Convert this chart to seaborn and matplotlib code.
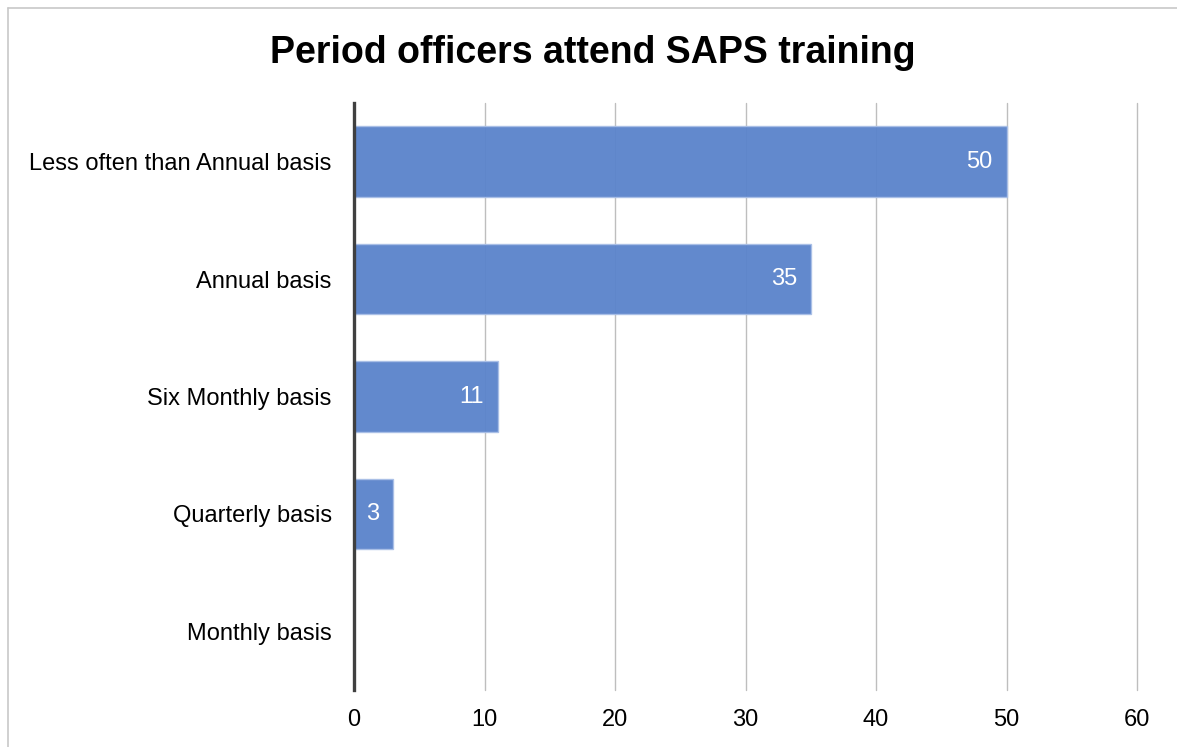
import matplotlib
matplotlib.use("Agg")
import matplotlib.pyplot as plt
import numpy as np
import pandas as pd
import seaborn as sns
from matplotlib.lines import Line2D

# datos
categorias = ["Less often than Annual basis", "Annual basis", "Six Monthly basis",
              "Quarterly basis", "Monthly basis"]
valores = [50, 35, 11, 3, 0]
ticks_x = [0, 10, 20, 30, 40, 50, 60]
titulo = "Period officers attend SAPS training"

df = pd.DataFrame({"categoria": categorias, "valor": valores})

sns.set_theme(style="white")
plt.rcParams["font.family"] = ["Liberation Sans", "DejaVu Sans"]

fig = plt.figure(figsize=(11.77, 7.47), dpi=100)
ax = fig.add_axes([0.3008, 0.0763, 0.6653, 0.7858])

sns.barplot(data=df, x="valor", y="categoria", orient="h", color="#5a83cb",
            width=0.6, saturation=1, ax=ax, zorder=3)
for p in ax.patches:
    p.set_alpha(0.95)
    p.set_edgecolor("#a9bfe6")
    p.set_linewidth(1)

# etiquetas de valor dentro de la barra
for i, v in enumerate(valores):
    if v > 0:
        ax.annotate(str(v), (v, i), xytext=(-10, 0), textcoords="offset points",
                    ha="right", va="center", color="white", fontsize=17, zorder=4)

ax.set_xlim(0, 60)
ax.set_ylim(4.5, -0.5)
ax.set_xticks(ticks_x)
ax.xaxis.grid(True, color="#bebebe", linewidth=1)
for gl in ax.get_xgridlines():
    gl.set_clip_on(False)
ax.set_axisbelow(True)
ax.set_xlabel("")
ax.set_ylabel("")
ax.tick_params(axis="both", length=0, labelsize=17, colors="black")
ax.tick_params(axis="x", pad=14)
ax.tick_params(axis="y", pad=16)
for s in ["top", "right", "bottom"]:
    ax.spines[s].set_visible(False)
ax.spines["left"].set_color("#404040")
ax.spines["left"].set_linewidth(2.4)
ax.spines["left"].set_zorder(5)

fig.text(0.504, 0.929, titulo, ha="center", va="center", fontsize=27,
         fontweight="bold", color="black")

# marco gris del grafico
x0 = 8 / 1177
y0 = 1 - 8 / 747
fig.add_artist(Line2D([x0, x0], [0, y0], transform=fig.transFigure, color="#c8c8c8", lw=1.2))
fig.add_artist(Line2D([x0, 1], [y0, y0], transform=fig.transFigure, color="#c8c8c8", lw=1.2))

fig.savefig("out.png", dpi=100)
plt.close(fig)
